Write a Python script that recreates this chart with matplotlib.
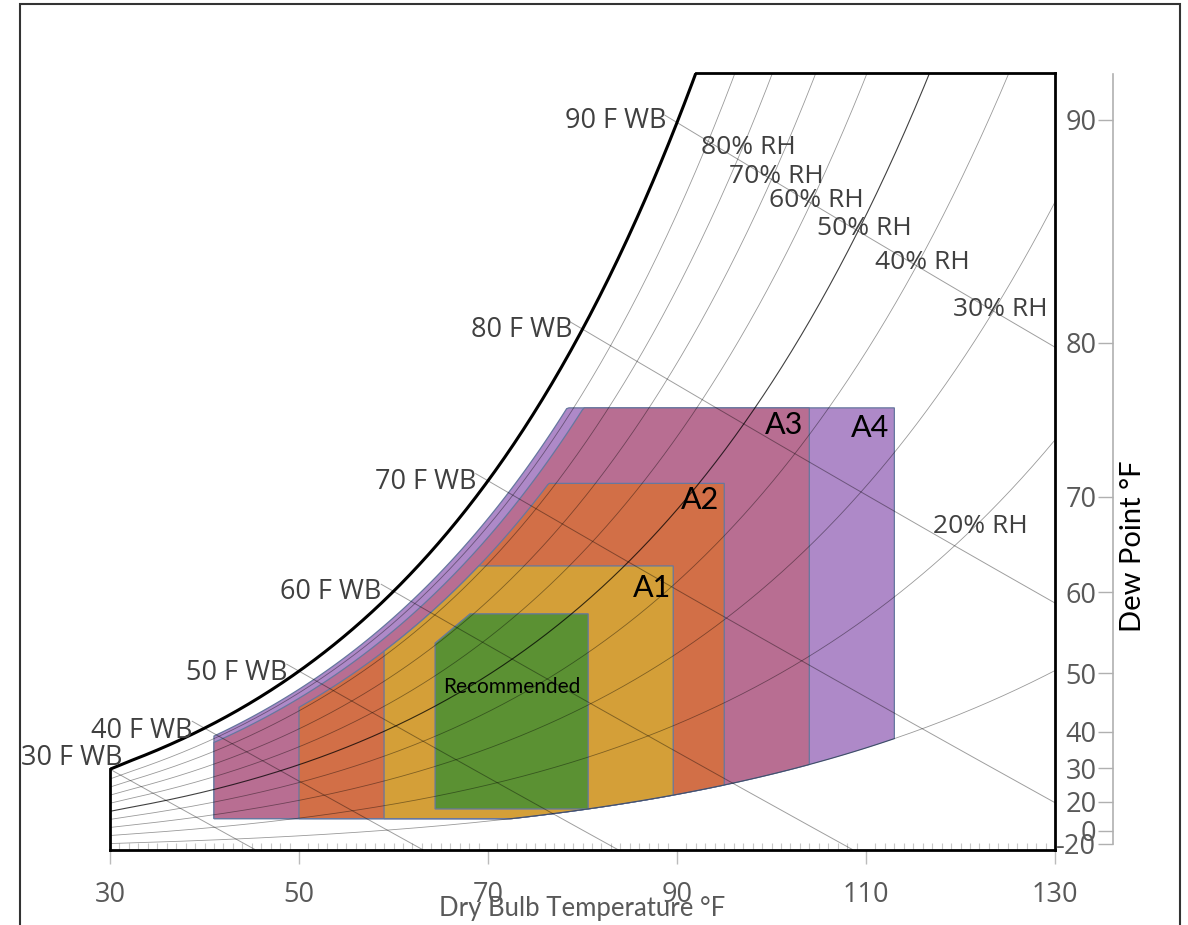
import numpy as np
import matplotlib.pyplot as plt
from matplotlib.patches import Rectangle
from matplotlib.ticker import MultipleLocator, FixedLocator

P_ATM = 101.325  # kPa

# ---- chart data ----
db_ticks = [30, 50, 70, 90, 110, 130]
w_top = 0.0331  # humidity ratio at top edge of the chart

# RH curves as they sit on the picture (about 2 points under the printed value)
rh_lines = [8, 18, 28, 38, 48, 58, 68, 78, 88]
rh_dark = 48
wb_lines = [30, 40, 50, 60, 70, 80, 90]

dp_labels = [90, 80, 70, 60, 50, 40, 30, 20, 0, -20]
dp_tick_w = [0.03110, 0.02160, 0.01504, 0.01099, 0.00754, 0.00503, 0.00349, 0.00205, 0.00081, 0.00026]

# ASHRAE classes: dry bulb limits, dew point / RH limits (F, %)
class_names = ['A4', 'A3', 'A2', 'A1']
class_db_min = [41.0, 41.0, 50.0, 59.0]
class_db_max = [113.0, 104.0, 95.0, 89.6]
class_dp_min = [10.4, 10.4, 10.4, 10.4]
class_rh_min = [8, 8, 8, 8]
class_dp_max = [75.2, 75.2, 69.8, 62.6]
class_rh_max = [90, 85, 80, 80]
class_colors = ['#ae89c8', '#b86e92', '#d26f47', '#d49f38']

rec_db = [64.4, 64.4, 68.1, 80.6, 80.6]
rec_dp = [15.8, 53.9, 57.5, 57.5, 15.8]
rec_color = '#5b9133'

# label positions (dry bulb F, humidity ratio)
wb_label_x = [31.3, 38.7, 48.8, 58.7, 68.8, 78.9, 88.9]
wb_label_w = [0.00392, 0.00507, 0.00754, 0.01099, 0.01568, 0.02216, 0.03106]
rh_label_txt = [80, 70, 60, 50, 40, 30, 20]
rh_label_x = [97.6, 100.5, 104.7, 109.8, 116.0, 124.2, 122.1]
rh_label_w = [0.02991, 0.02868, 0.02765, 0.02646, 0.02501, 0.02301, 0.01376]
class_label_x = [110.4, 101.3, 92.4, 87.4]
class_label_w = [0.01798, 0.01811, 0.01491, 0.01116]
rec_label_x, rec_label_w = 72.5, 0.00695


# ---- psychrometrics ----
def pws(t_f):
    tc = (np.asarray(t_f, dtype=float) - 32) / 1.8
    water = 0.61094 * np.exp(17.625 * tc / (tc + 243.04))
    ice = 0.61115 * np.exp(22.452 * tc / (272.55 + tc))
    return np.where(tc >= 0, water, ice)

def w_from_pw(pw):
    return 0.622 * pw / (P_ATM - pw)

def w_rh(t_f, rh):
    return w_from_pw(rh / 100.0 * pws(t_f))

def w_dp(dp_f):
    return w_from_pw(pws(dp_f))

def w_wb(t_f, twb):
    ws = w_dp(twb)
    return ((1093 - 0.556 * twb) * ws - 0.240 * (t_f - twb)) / (1093 + 0.444 * t_f - twb)


fig = plt.figure(figsize=(11.88, 9.25), dpi=100)
ax = fig.add_axes([110 / 1188, 75 / 925, 945 / 1188, 777 / 925])
ax.set_xlim(30, 130)
ax.set_ylim(0, w_top)

t = np.linspace(30, 130, 600)

# class envelopes
for name, dbmin, dbmax, dpmin, rhmin, dpmax, rhmax, col in zip(
        class_names, class_db_min, class_db_max, class_dp_min, class_rh_min,
        class_dp_max, class_rh_max, class_colors):
    tt = np.linspace(dbmin, dbmax, 300)
    upper = np.minimum(w_rh(tt, rhmax), w_dp(dpmax))
    lower = np.maximum(w_dp(dpmin), w_rh(tt, rhmin))
    xs = np.concatenate([tt, tt[::-1]])
    ys = np.concatenate([lower, upper[::-1]])
    ax.fill(xs, ys, facecolor=col, edgecolor='#66779f', lw=0.9, zorder=2)

ax.fill(rec_db, w_dp(np.array(rec_dp)), facecolor=rec_color, edgecolor='#66779f', lw=0.9, zorder=2.5)

# RH lines
for rh in rh_lines:
    dark = rh == rh_dark
    ax.plot(t, w_rh(t, rh), color='black', lw=0.8 if dark else 0.6,
            alpha=0.75 if dark else 0.4, zorder=3)

# wet bulb lines (stub reaches a little past saturation toward the label)
for wb in wb_lines:
    tw = np.linspace(wb - 1.3, 130, 300)
    ww = w_wb(tw, wb)
    ok = ww >= 0
    ax.plot(tw[ok], ww[ok], color='black', lw=0.7, alpha=0.38, zorder=3)

# saturation curve
ws = w_rh(t, 100)
ax.plot(t, ws, color='black', lw=2.2, zorder=4, solid_capstyle='butt')

# spines
t_sat_top = np.interp(w_top, ws, t)
for s in ax.spines.values():
    s.set_color('black')
    s.set_linewidth(2)
ax.spines['top'].set_bounds(t_sat_top, 130)
ax.spines['left'].set_bounds(0, w_rh(30, 100))
ax.spines['right'].set_zorder(5)

# ticks
ax.xaxis.set_major_locator(FixedLocator(db_ticks))
ax.xaxis.set_minor_locator(MultipleLocator(1))
ax.tick_params(axis='x', which='major', direction='out', length=10, width=1,
               color='#bbbbbb', labelsize=19.5, labelcolor='#595959', pad=12)
ax.tick_params(axis='x', which='minor', direction='in', length=5, width=0.8, color='#c8c8c8')
ax.tick_params(axis='y', left=False, labelleft=False)
for lab in ax.get_xticklabels():
    lab.set_fontfamily('Open Sans')
ax.set_xlabel('Dry Bulb Temperature °F', fontsize=18.5, family='Lato', color='#595959', labelpad=-9)

# labels
for wb, x, w in zip(wb_lines, wb_label_x, wb_label_w):
    ax.text(x, w, f'{wb} F WB', ha='right', va='center', fontsize=19.5,
            family='Open Sans', color='#404040', zorder=6, clip_on=False)
for rh, x, w in zip(rh_label_txt, rh_label_x, rh_label_w):
    ax.text(x, w, f'{rh}% RH', ha='center', va='center', fontsize=19,
            family='Open Sans', color='#404040', zorder=6)
for name, x, w in zip(class_names, class_label_x, class_label_w):
    ax.text(x, w, name, ha='center', va='center', fontsize=22, family='Lato',
            color='black', zorder=6)
ax.text(rec_label_x, rec_label_w, 'Recommended', ha='center', va='center',
        fontsize=15, family='Lato', color='black', zorder=6)

# dew point axis
ax2 = fig.add_axes([1113 / 1188, 75 / 925, 1e-4, 777 / 925])
ax2.set_ylim(0, w_top)
ax2.patch.set_visible(False)
for side in ['top', 'bottom', 'right']:
    ax2.spines[side].set_visible(False)
ax2.spines['left'].set_color('#b0b0b0')
ax2.spines['left'].set_linewidth(1.2)
ax2.spines['left'].set_bounds(dp_tick_w[-1], w_top - 0.00005)
ax2.set_xticks([])
ax2.yaxis.set_major_locator(FixedLocator(dp_tick_w))
ax2.set_yticklabels([str(d) for d in dp_labels])
ax2.tick_params(axis='y', direction='out', length=11, width=1, color='#b0b0b0',
                labelsize=19.5, labelcolor='#595959', pad=1)
for lab in ax2.get_yticklabels():
    lab.set_fontfamily('Open Sans')
fig.text(1133 / 1188, 1 - 546 / 925, 'Dew Point °F', rotation=90, ha='center', va='center',
         fontsize=21, family='Lato', color='black')

# outer frame
fig.patches.append(Rectangle((20 / 1188, -0.05), 1160 / 1188, 1.05 - 4 / 925,
                             transform=fig.transFigure, fill=False, lw=1.5, ec='#333333'))

fig.savefig('out.png', dpi=100)
